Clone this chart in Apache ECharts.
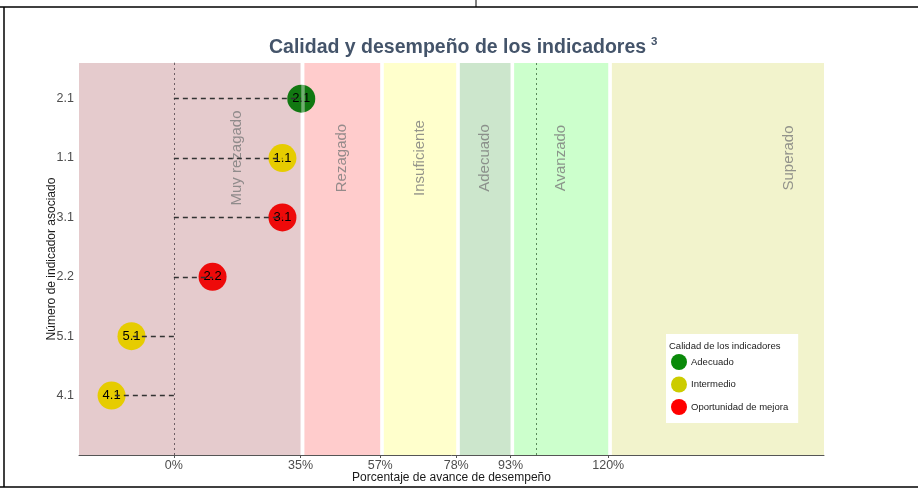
<!DOCTYPE html>
<html>
<head>
<meta charset="utf-8">
<script src="https://cdn.jsdelivr.net/npm/echarts@6/dist/echarts.min.js"></script>
<style>html,body{margin:0;padding:0;background:#fff;}#c{width:918px;height:490px;}</style>
</head>
<body>
<div id="c"></div>
<script>
// ---- data ----
const categories = ['4.1', '5.1', '2.2', '3.1', '1.1', '2.1']; // bottom to top
const values = [-17.2, -11.7, 10.7, 30.0, 30.0, 35.2];
const quality = ['Intermedio', 'Intermedio', 'Oportunidad de mejora', 'Oportunidad de mejora', 'Intermedio', 'Adecuado'];
const qualityNames = ['Adecuado', 'Intermedio', 'Oportunidad de mejora'];
const pointColors = ['#117811', '#e6cc00', '#ee0a0a'];
const legendColors = ['#0a8a0a', '#cccc00', '#ff0000'];
const bandNames = ['Muy rezagado', 'Rezagado', 'Insuficiente', 'Adecuado', 'Avanzado', 'Superado'];
const xMin = -26.2, xMax = 179.6;
const bandStarts = [xMin, 36, 58, 79, 94, 121];
const bandEnds = [35, 57, 78, 93, 120, xMax];
const bandLabelPos = [17.5, 46.5, 68, 86, 107, 170];
const bandColors = ['#e5cbcd', '#ffcccc', '#ffffcc', '#cce6cc', '#ccffcc', '#f2f3cc'];
const xTicks = [0, 35, 57, 78, 93, 120];
const refLines = [0, 100];

const FONT = 'Liberation Sans, Arial, sans-serif';
const yPos = categories.map((c, i) => i + 1);

const chart = echarts.init(document.getElementById('c'));

const scatterSeries = qualityNames.map((q, qi) => ({
  name: q,
  type: 'scatter',
  z: 3,
  symbol: 'circle',
  symbolSize: 28,
  itemStyle: { color: pointColors[qi], opacity: 1 },
  label: { show: true, position: 'inside', color: '#000', fontSize: 13, fontFamily: FONT,
           formatter: p => p.data[2] },
  data: categories.map((c, i) => quality[i] === q ? [values[i], yPos[i], c] : null).filter(d => d)
}));

const option = {
  animation: false,
  backgroundColor: '#fff',
  textStyle: { fontFamily: FONT },
  title: {
    text: '{t|Calidad y desempeño de los indicadores} {s|3}',
    left: 264, top: 31,
    textStyle: {
      rich: {
        t: { fontSize: 19.5, fontWeight: 'bold', color: '#44546a', fontFamily: FONT, lineHeight: 23 },
        s: { fontSize: 11.5, fontWeight: 'bold', color: '#44546a', fontFamily: FONT, verticalAlign: 'top', lineHeight: 23, padding: [0, 0, 10, 0] }
      }
    }
  },
  grid: { left: 79, right: 94, top: 63, bottom: 35, containLabel: false, outerBoundsMode: 'none' },
  xAxis: {
    type: 'value', min: xMin, max: xMax,
    name: 'Porcentaje de avance de desempeño', nameLocation: 'middle', nameGap: 17, nameMoveOverlap: false,
    nameTextStyle: { fontSize: 12, color: '#1a1a1a', fontFamily: FONT },
    axisLine: { show: true, lineStyle: { color: '#555', width: 1 } },
    axisTick: { show: true, length: 3, customValues: xTicks, lineStyle: { color: '#555' } },
    axisLabel: { customValues: xTicks, formatter: v => v + '%', color: '#4d4d4d', fontSize: 12.5, margin: 4, fontFamily: FONT },
    splitLine: { show: false }
  },
  yAxis: {
    type: 'value', min: 0, max: 6.6,
    name: 'Número de indicador asociado', nameLocation: 'middle', nameGap: 21, nameRotate: 90, nameMoveOverlap: false,
    nameTextStyle: { fontSize: 12, color: '#1a1a1a', fontFamily: FONT },
    axisLine: { show: true, lineStyle: { color: '#888', width: 1 } },
    axisTick: { show: true, length: 3, customValues: yPos, lineStyle: { color: '#555' } },
    axisLabel: { customValues: yPos, formatter: v => categories[Math.round(v) - 1] || '', color: '#4d4d4d', fontSize: 12.5, margin: 5, fontFamily: FONT },
    splitLine: { show: false }
  },
  legend: {
    orient: 'vertical', left: 666, top: 334,
    padding: [20, 10, 8, 5],
    backgroundColor: '#fff',
    itemWidth: 16, itemHeight: 16, itemGap: 6.5,
    icon: 'circle',
    textStyle: { fontSize: 9.5, color: '#1a1a1a', fontFamily: FONT, padding: [0, 0, 0, -1] },
    data: qualityNames.map((q, i) => ({ name: q, itemStyle: { color: legendColors[i] } }))
  },
  graphic: [
    { type: 'text', left: 669, top: 341, z: 100, style: { text: 'Calidad de los indicadores', fontSize: 9.5, fill: '#1a1a1a', fontFamily: FONT } },
    { type: 'line', z: 100, shape: { x1: 0, y1: 7, x2: 918, y2: 7 }, style: { stroke: '#000', lineWidth: 1.5 } },
    { type: 'line', z: 100, shape: { x1: 476, y1: 0, x2: 476, y2: 7 }, style: { stroke: '#000', lineWidth: 1 } },
    { type: 'line', z: 100, shape: { x1: 4, y1: 7, x2: 4, y2: 487 }, style: { stroke: '#000', lineWidth: 1.5 } },
    { type: 'line', z: 100, shape: { x1: 0, y1: 487, x2: 918, y2: 487 }, style: { stroke: '#000', lineWidth: 1.5 } }
  ],
  series: [
    {
      name: 'bands', type: 'line', data: [], z: 1, silent: true,
      markArea: {
        silent: true,
        data: bandNames.map((b, i) => [
          { xAxis: bandStarts[i], yAxis: 0, itemStyle: { color: bandColors[i], opacity: 1 } },
          { xAxis: bandEnds[i], yAxis: 6.6 }
        ])
      },
      markLine: {
        silent: true, symbol: 'none', label: { show: false },
        data: refLines.map((v, i) => ({ xAxis: v, lineStyle: { type: [2, 3], color: i === 0 ? '#6e5e64' : '#5a8a5a', width: 1 } }))
      }
    },
    {
      name: 'bandLabels', type: 'scatter', z: 2, silent: true, symbolSize: 0,
      itemStyle: { color: 'rgba(0,0,0,0)' },
      label: { show: true, position: 'inside', rotate: 90, color: '#7a7a7a', fontSize: 15, fontFamily: FONT, formatter: p => p.data[2] },
      data: bandNames.map((b, i) => [bandLabelPos[i], 5, b])
    },
    ...scatterSeries,
    {
      name: 'segments', type: 'line', data: [], z: 4, silent: true,
      markLine: {
        silent: true, symbol: 'none', label: { show: false },
        lineStyle: { type: [5, 4], color: '#333', width: 1.3 },
        data: categories.map((c, i) => [{ coord: [0, yPos[i]] }, { coord: [values[i], yPos[i]] }])
      }
    },
    {
      name: 'gapOverlay', type: 'line', data: [], z: 5, silent: true,
      markLine: {
        silent: true, symbol: 'none', label: { show: false },
        data: [{ xAxis: 35.5, lineStyle: { type: 'solid', color: '#fff', width: 3.5, opacity: 0.4 } }]
      }
    }
  ]
};
chart.setOption(option);
</script>
</body>
</html>
